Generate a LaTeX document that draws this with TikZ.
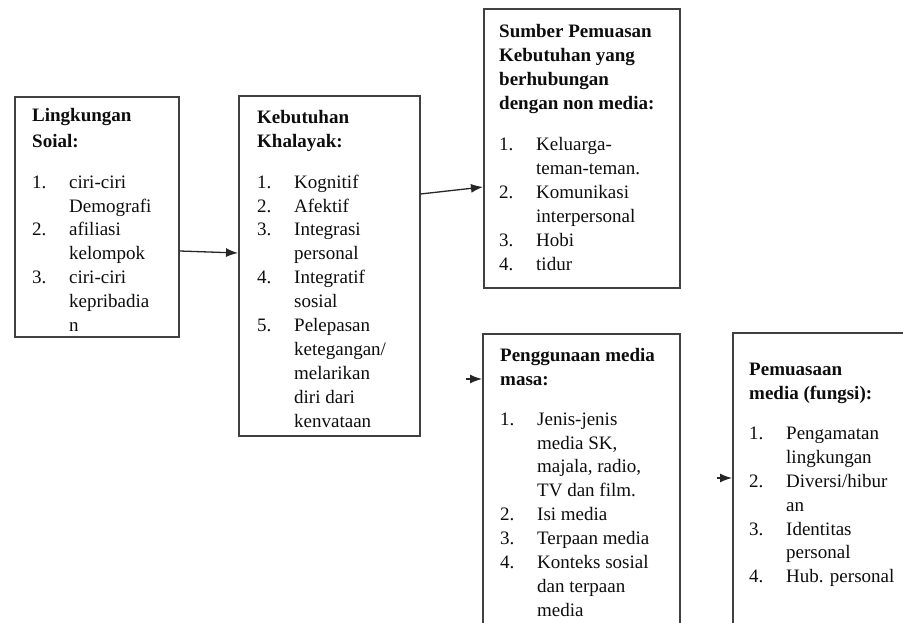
\documentclass[tikz,border=0pt]{standalone}
\usepackage{fontspec}
\setmainfont{Liberation Serif}
\usepackage{tikz}
\usetikzlibrary{arrows.meta,positioning,calc}

\newcommand{\itm}[2]{\makebox[37pt][l]{#1}#2}
\newcommand{\nxt}[1]{\hspace*{37pt}#1}

\begin{document}
\begin{tikzpicture}[x=1pt, y=-1pt,
    box/.style={rectangle, draw=black!75, line width=1.6pt, anchor=north west, inner sep=0pt},
    txt/.style={anchor=north west, align=left, inner sep=0pt, text=black!95,
        font=\fontsize{19}{23.9}\selectfont},
    arrow/.style={-{Latex[length=12pt,width=9pt]}, line width=1.3pt, draw=black!85}
]
    \clip (0,0) rectangle (903,623);

    % Lingkungan sosial
    \node[box, minimum width=164pt, minimum height=240pt] (soial) at (14,96) {};
    \node[txt] (soial-t) at (32,108) {\textbf{Lingkungan}\\[2pt] \textbf{Soial:}\\[17pt]
        \itm{1.}{ciri-ciri}\\ \nxt{Demografi}\\ \itm{2.}{afiliasi}\\ \nxt{kelompok}\\
        \itm{3.}{ciri-ciri}\\ \nxt{kepribadia}\\ \nxt{n}};

    % Kebutuhan khalayak
    \node[box, minimum width=181pt, minimum height=340pt] (khalayak) at (238,95) {};
    \node[txt] (khalayak-t) at (257,110) {\textbf{Kebutuhan}\\ \textbf{Khalayak:}\\[17pt]
        \itm{1.}{Kognitif}\\ \itm{2.}{Afektif}\\ \itm{3.}{Integrasi}\\ \nxt{personal}\\
        \itm{4.}{Integratif}\\ \nxt{sosial}\\ \itm{5.}{Pelepasan}\\ \nxt{ketegangan/}\\
        \nxt{melarikan}\\ \nxt{diri dari}\\ \nxt{kenvataan}};

    % Sumber non media
    \node[box, minimum width=196pt, minimum height=279pt] (nonmedia) at (483,8) {};
    \node[txt] (nonmedia-t) at (499,24) {\textbf{Sumber Pemuasan}\\ \textbf{Kebutuhan yang}\\
        \textbf{berhubungan}\\ \textbf{dengan non media:}\\[18pt]
        \itm{1.}{Keluarga-}\\ \nxt{teman-teman.}\\ \itm{2.}{Komunikasi}\\ \nxt{interpersonal}\\
        \itm{3.}{Hobi}\\ \itm{4.}{tidur}};

    % Penggunaan media
    \node[box, minimum width=197pt, minimum height=320pt] (guna) at (482,333) {};
    \node[txt] (guna-t) at (500,348) {\textbf{Penggunaan media}\\ \textbf{masa:}\\[16pt]
        \itm{1.}{Jenis-jenis}\\ \nxt{media SK,}\\ \nxt{majala, radio,}\\ \nxt{TV dan film.}\\
        \itm{2.}{Isi media}\\ \itm{3.}{Terpaan media}\\ \itm{4.}{Konteks sosial}\\
        \nxt{dan terpaan}\\ \nxt{media}};

    % Pemuasaan media
    \node[box, minimum width=200pt, minimum height=320pt] (puas) at (732,332) {};
    \node[txt] (puas-t) at (749,363) {\textbf{Pemuasaan}\\ \textbf{media (fungsi):}\\[16pt]
        \itm{1.}{Pengamatan}\\ \nxt{lingkungan}\\ \itm{2.}{Diversi/hibur}\\ \nxt{an}\\
        \itm{3.}{Identitas}\\ \nxt{personal}\\ \itm{4.}{Hub. personal}};

    % Arrows
    \draw[arrow] ([yshift=-155pt]soial.north east) -- ([yshift=-158pt]khalayak.north west);
    \draw[arrow] ([yshift=-99pt]khalayak.north east) -- ([yshift=-179pt]nonmedia.north west);
    \coordinate (s3) at ([xshift=-16pt,yshift=-46pt]guna.north west);
    \draw[arrow] (s3) -- ([yshift=-46pt]guna.north west);
    \coordinate (s4) at ([xshift=-15pt,yshift=-146pt]puas.north west);
    \draw[arrow] (s4) -- ([yshift=-146pt]puas.north west);
\end{tikzpicture}
\end{document}
